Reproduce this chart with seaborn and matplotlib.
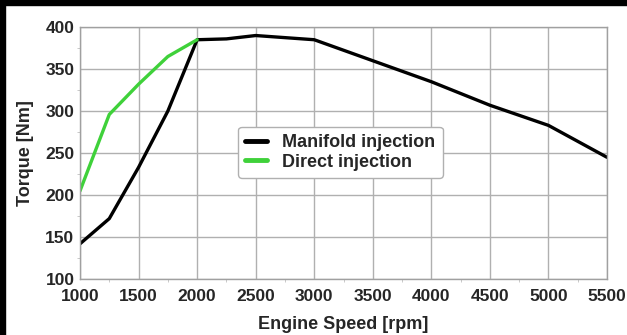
import pandas as pd
import matplotlib.pyplot as plt
import seaborn as sns
from matplotlib.ticker import MultipleLocator

# Torque curves
speed_manifold = [1000, 1250, 1500, 1750, 2000, 2250, 2500, 3000, 3500, 4000, 4500, 5000, 5500]
torque_manifold = [142, 172, 233, 300, 385, 386, 390, 385, 360, 335, 307, 283, 245]
speed_direct = [1000, 1250, 1500, 1750, 2000]
torque_direct = [205, 296, 332, 365, 385]
labels = ['Manifold injection', 'Direct injection']
colors = ['black', '#3fd13a']

df = pd.concat([
    pd.DataFrame({'speed': speed_manifold, 'torque': torque_manifold, 'type': labels[0]}),
    pd.DataFrame({'speed': speed_direct, 'torque': torque_direct, 'type': labels[1]}),
])

sns.set_style('white')
plt.rcParams['font.family'] = ['Liberation Sans', 'DejaVu Sans']
plt.rcParams['font.weight'] = 'bold'

fig = plt.figure(figsize=(6.27, 3.35), dpi=100)
ax = fig.add_axes([0.1276, 0.167, 0.8405, 0.752])

sns.lineplot(data=df, x='speed', y='torque', hue='type', palette=dict(zip(labels, colors)),
             linewidth=2.4, sort=False, estimator=None, ax=ax)

ax.set_xlim(1000, 5500)
ax.set_ylim(100, 400)
ax.xaxis.set_major_locator(MultipleLocator(500))
ax.xaxis.set_minor_locator(MultipleLocator(250))
ax.yaxis.set_major_locator(MultipleLocator(50))
ax.yaxis.set_minor_locator(MultipleLocator(25))
ax.grid(True, which='major', color='#b0b0b0', linewidth=1)
ax.set_axisbelow(True)
for s in ax.spines.values():
    s.set_color('#a0a0a0')
    s.set_linewidth(1)
ax.tick_params(which='major', length=3, color='#a0a0a0', labelsize=12.5, pad=1)
ax.tick_params(axis='x', which='major', pad=4)
ax.tick_params(which='minor', length=2, color='#c0c0c0', bottom=True, left=True)
for t in ax.get_xticklabels() + ax.get_yticklabels():
    t.set_fontweight('bold')

ax.set_xlabel('Engine Speed [rpm]', fontsize=13, fontweight='bold', labelpad=9)
ax.set_ylabel('Torque [Nm]', fontsize=13, fontweight='bold', labelpad=8)

leg = ax.legend(loc='upper left', bbox_to_anchor=(0.3, 0.605), fontsize=13, frameon=True,
                handlelength=1.2, handletextpad=0.85, borderpad=0.4, labelspacing=0.15,
                borderaxespad=0, edgecolor='#b0b0b0', fancybox=True, framealpha=1)
leg.get_frame().set_linewidth(1)
for line in leg.get_lines():
    line.set_linewidth(3.5)
for t in leg.get_texts():
    t.set_fontweight('bold')

# black border strips of the original image
fig.patches.append(plt.Rectangle((0, 1 - 5 / 335), 1, 5 / 335, transform=fig.transFigure,
                                 color='black', zorder=10))
fig.patches.append(plt.Rectangle((0, 0), 5 / 627, 1, transform=fig.transFigure,
                                 color='black', zorder=10))

fig.savefig('out.png', dpi=100)
